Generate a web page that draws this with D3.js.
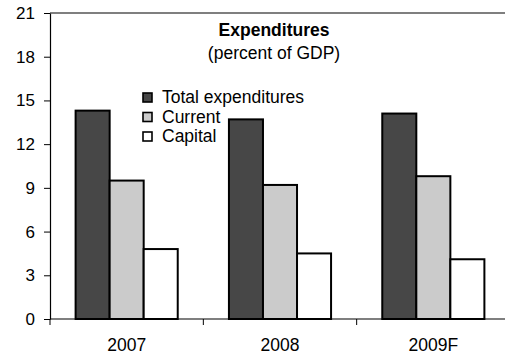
<!DOCTYPE html>
<html>
<head>
<meta charset="utf-8">
<script src="https://cdn.jsdelivr.net/npm/d3@7"></script>
<style>
  body { margin: 0; background: #fff; }
  svg { display: block; font-family: Arial, "Liberation Sans", sans-serif; }
</style>
</head>
<body>
<svg id="chart" width="505" height="358"></svg>
<script>
// data
const years = ['2007', '2008', '2009F'];
const seriesNames = ['Total expenditures', 'Current', 'Capital'];
const seriesColors = ['#474747', '#cbcbcb', '#ffffff'];
const totalExp = [14.3, 13.7, 14.1];
const currentExp = [9.5, 9.2, 9.8];
const capitalExp = [4.8, 4.5, 4.1];
const yTicks = [0, 3, 6, 9, 12, 15, 18, 21];

const seriesValues = [totalExp, currentExp, capitalExp];

const svg = d3.select('#chart');
const margin = { left: 50, top: 13, right: 510, bottom: 319 };

const y = d3.scaleLinear().domain([0, 21]).range([margin.bottom, margin.top]);
const x0 = d3.scaleBand().domain(years).range([margin.left, margin.right]);
const x1 = d3.scaleBand()
    .domain(seriesNames)
    .range([x0.bandwidth() * 0.167, x0.bandwidth() * 0.833]);

// bars
const groups = svg.append('g')
    .selectAll('g')
    .data(years)
    .join('g')
    .attr('transform', d => `translate(${x0(d)},0)`);

groups.selectAll('rect')
    .data((yr, i) => seriesNames.map((s, j) => ({ s, j, v: seriesValues[j][i] })))
    .join('rect')
    .attr('x', d => x1(d.s))
    .attr('y', d => y(d.v))
    .attr('width', x1.bandwidth())
    .attr('height', d => y(0) - y(d.v))
    .style('fill', d => seriesColors[d.j])
    .style('stroke', '#000')
    .style('stroke-width', 2);

// top border
svg.append('line')
    .attr('x1', margin.left).attr('x2', margin.right)
    .attr('y1', y(21)).attr('y2', y(21))
    .style('stroke', '#000').style('stroke-width', 1.2);

// y axis
const yAxis = svg.append('g')
    .attr('transform', `translate(${margin.left},0)`)
    .call(d3.axisLeft(y).tickValues(yTicks).tickSize(6).tickPadding(9).tickSizeOuter(0));
yAxis.select('.domain').style('stroke', '#000').style('stroke-width', 1.2);
yAxis.selectAll('line').style('stroke', '#000');
yAxis.selectAll('text').style('font-size', '17px').style('fill', '#000');

// x axis with ticks on category boundaries
svg.append('line')
    .attr('x1', margin.left).attr('x2', margin.right)
    .attr('y1', y(0)).attr('y2', y(0))
    .style('stroke', '#000').style('stroke-width', 1.2);

svg.append('g')
    .selectAll('line')
    .data(years)
    .join('line')
    .attr('x1', d => x0(d)).attr('x2', d => x0(d))
    .attr('y1', y(0)).attr('y2', y(0) + 6)
    .style('stroke', '#000');

svg.append('g')
    .selectAll('text')
    .data(years)
    .join('text')
    .attr('x', d => x0(d) + x0.bandwidth() / 2)
    .attr('y', 351)
    .attr('text-anchor', 'middle')
    .style('font-size', '17.5px')
    .text(d => d);

// title
svg.append('text')
    .attr('x', 274).attr('y', 36)
    .attr('text-anchor', 'middle')
    .style('font-size', '17.5px')
    .style('font-weight', 'bold')
    .text('Expenditures');
svg.append('text')
    .attr('x', 274).attr('y', 59)
    .attr('text-anchor', 'middle')
    .style('font-size', '17.5px')
    .text('(percent of GDP)');

// legend
const legend = svg.append('g')
    .selectAll('g')
    .data(seriesNames)
    .join('g')
    .attr('transform', (d, i) => `translate(143,${93 + i * 19.5})`);

legend.append('rect')
    .attr('width', 9).attr('height', 9)
    .style('fill', (d, i) => seriesColors[i])
    .style('stroke', '#000')
    .style('stroke-width', 1.6);

legend.append('text')
    .attr('x', 19).attr('y', 10)
    .style('font-size', '17.5px')
    .text(d => d);
</script>
</body>
</html>
